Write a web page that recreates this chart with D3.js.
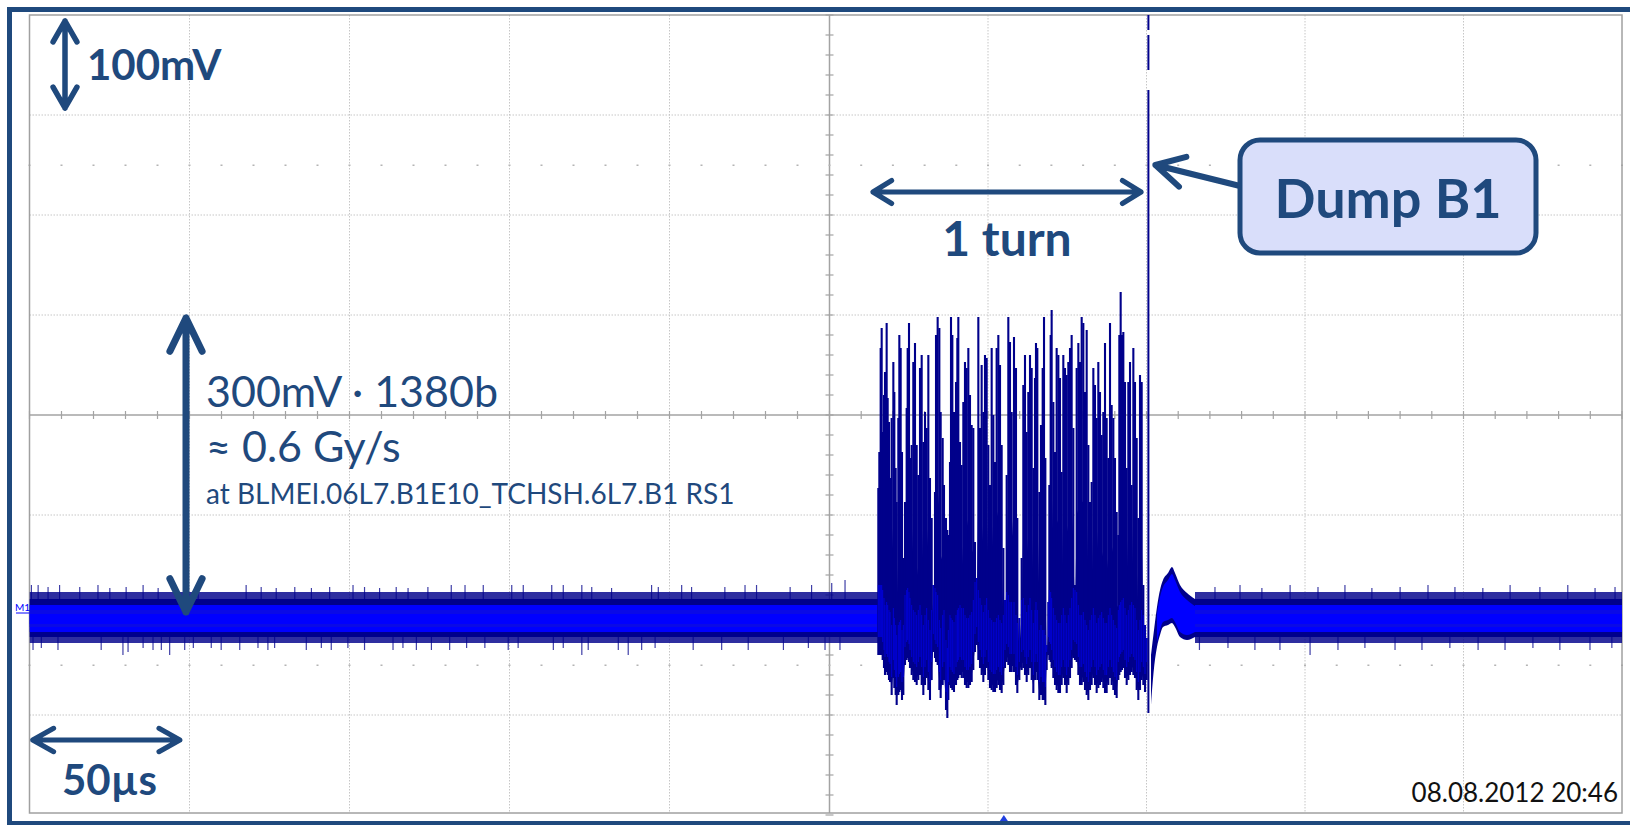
<!DOCTYPE html>
<html>
<head>
<meta charset="utf-8">
<script src="https://cdn.jsdelivr.net/npm/d3@7"></script>
<style>
  body { margin: 0; background: #fff; }
  svg { display: block; }
  text { font-family: Lato, "Open Sans", sans-serif; }
</style>
</head>
<body>
<div id="scope"></div>
<script>
// screen: 10 div x 50 µs, 8 div x 100 mV
var timeTicks = [-250, -200, -150, -100, -50, 0, 50, 100, 150, 200, 250];
var voltTicks = [-400, -300, -200, -100, 0, 100, 200, 300, 400];

// idle trace band (mV): fuzzy top, solid top, core top, core bottom, solid bottom, fuzzy bottom
var baseLevels = [-177, -184, -190, -217, -222, -228];
var baseSpans = [[-250, 15.4], [115.3, 250]];

// noise spikes sticking out of the idle band (µs, mV)
var spikeUpT = [-249.4, -247.3, -244.2, -240.6, -234.3, -228.6, -224.9, -219.8, -214.5, -209.8, -197.3, -182.3, -177.6, -172.9, -167.1, -161.9, -156.2, -148.9, -145.3, -140.6, -135.4, -131.7, -125.5, -118.2, -113.9, -108.2, -99.3, -95.7, -86.8, -83.2, -77.4, -74.3, -68.1, -55.6, -53.5, -46.2, -43.1, -32.7, -26.4, -22.8, -12.3, -5.6, 0.7, 4.9,
                121.6, 129.5, 136.4, 145.3, 154.1, 162.6, 171.1, 180.0, 188.8, 197.3, 206.1, 214.7, 224.1, 232.9, 241.5, 247.8];
var spikeUpV = [-170, -170, -172, -170, -172, -170, -173, -172, -170, -173, -172, -170, -172, -173, -172, -173, -172, -170, -172, -173, -172, -173, -172, -170, -170, -170, -170, -170, -170, -170, -170, -172, -173, -170, -172, -170, -172, -172, -170, -170, -172, -170, -168, -165,
                -172, -170, -173, -170, -172, -170, -173, -172, -170, -172, -173, -170, -172, -170, -173, -172];
var spikeDnT = [-248.9, -246.3, -241.1, -227.6, -220.8, -219.2, -214.5, -211.4, -208.8, -206.2, -201.5, -198.8, -193.2, -190.1, -184.3, -178.6, -175.5, -173.4, -163.5, -158.8, -155.7, -150.5, -145.3, -136.4, -133.3, -129.1, -124.4, -118.7, -113.4, -107.7, -100.4, -97.3, -86.3, -83.2, -77.4, -75.4, -66.0, -62.9, -58.7, -54.5, -42.6, -33.7, -25.4, -14.4, -6.6, -1.4, 3.3,
                116.7, 125.7, 134.2, 142.1, 151.6, 160.4, 168.9, 178.4, 186.9, 195.7, 204.6, 213.1, 221.9, 230.4, 239.9, 246.8];
var spikeDnV = [-235, -233, -235, -235, -240, -237, -233, -235, -235, -240, -235, -233, -233, -235, -235, -233, -235, -233, -235, -233, -235, -233, -235, -235, -233, -235, -235, -235, -233, -233, -235, -233, -235, -233, -240, -235, -235, -240, -235, -233, -235, -235, -235, -235, -233, -235, -235,
                -235, -233, -235, -235, -240, -235, -233, -235, -235, -233, -235, -235, -233, -235, -235, -233];

// loss burst during the last turn before the dump (µs, mV max, mV min)
var burstT = [15.40, 15.72, 16.14, 16.46, 16.77, 17.19, 17.51, 18.03, 18.35, 18.77, 19.09, 19.61, 20.14, 20.45, 20.87, 21.19, 21.71, 22.03, 22.45, 22.87,
              23.29, 23.82, 24.34, 24.66, 25.08, 25.39, 25.92, 26.44, 26.97, 27.50, 28.02, 28.55, 29.08, 29.60, 30.13, 30.65, 31.18, 31.70, 32.23, 32.75,
              33.28, 33.60, 34.12, 34.65, 35.07, 35.70, 36.12, 36.75, 37.17, 37.49, 38.01, 38.33, 38.75, 39.27, 39.91, 40.33, 40.64, 41.17, 41.69, 42.22,
              42.74, 43.27, 43.80, 44.32, 44.85, 45.37, 45.90, 46.43, 46.95, 47.48, 48.00, 48.53, 49.05, 49.58, 50.10, 50.63, 51.16, 51.68, 52.21, 52.73,
              53.26, 53.79, 54.31, 54.84, 55.36, 55.89, 56.41, 56.94, 57.47, 58.20, 58.83, 59.25, 59.88, 60.62, 61.14, 61.67, 62.20, 62.72, 63.25, 63.78,
              64.30, 64.83, 65.14, 65.56, 66.19, 66.72, 67.25, 67.67, 68.09, 68.51, 69.03, 69.35, 69.77, 70.08, 70.61, 71.14, 71.66, 72.19, 72.71, 73.24,
              73.76, 74.29, 74.82, 75.34, 75.87, 76.39, 76.92, 77.44, 77.97, 78.50, 79.02, 79.55, 80.07, 80.60, 81.13, 81.65, 82.18, 82.70, 83.23, 83.75,
              84.28, 84.80, 85.33, 85.86, 86.38, 86.91, 87.43, 87.96, 88.49, 89.01, 89.54, 90.06, 90.59, 91.11, 91.43, 91.85, 92.27, 92.69, 93.22, 93.75,
              94.27, 94.80, 95.32, 95.85, 96.37, 96.90, 97.42, 97.95, 98.48, 99.00, 99.53, 100.05];
var burstHi = [-73, -37, 67, 87, -17, 20, 43, 92, 17, -7, -63, -3, 53, 23, -53, -87, -3, 80, 67, -37,
               -143, -87, 7, 67, 92, -43, -30, 53, 72, -30, -60, 47, 60, -27, 3, -13, 60, -63, -103, -170,
               -77, 80, 98, 87, 3, -23, -70, -103, -115, -120, -47, 98, 80, 3, 33, 77, 98, -27, -50, 13,
               53, 47, 67, 20, -10, -13, -127, -163, 98, -13, 50, 3, 60, 57, -30, -70, 67, 0, -47, 67,
               80, 50, -30, -133, -185, -60, 98, 73, 3, 78, 47, -103, -203, -143, 30, 60, -17, 23, 60, 47,
               -53, 37, 72, 67, -77, -10, 47, 98, -43, -230, -187, -70, 80, 105, 13, -37, 67, 60, 37, -57,
               60, 47, 40, 53, 67, 80, -13, -170, 47, 72, 53, 98, 92, 23, 85, -30, -87, -67, 47, 30,
               -3, 53, 23, -20, 3, 72, -3, -43, 92, 10, -3, -43, -97, -120, 80, 123, 80, 83, 33, -53,
               33, 53, -70, 67, 33, -23, -103, 40, 33, -170, -210, -223];
var burstLo = [-240, -240, -240, -240, -245, -253, -260, -257, -260, -265, -267, -280, -263, -273, -280, -290, -280, -277, -275, -285,
               -280, -250, -245, -243, -247, -253, -260, -265, -267, -270, -265, -260, -270, -280, -270, -263, -275, -285, -265, -237,
               -243, -247, -250, -275, -283, -270, -265, -295, -303, -285, -270, -273, -275, -277, -270, -265, -263, -260, -263, -263,
               -270, -273, -273, -270, -267, -255, -237, -230, -245, -253, -260, -267, -260, -253, -265, -273, -275, -277, -277, -273,
               -270, -275, -278, -270, -253, -247, -250, -257, -257, -257, -270, -278, -265, -255, -253, -260, -267, -260, -253, -265,
               -278, -265, -257, -265, -285, -280, -285, -285, -290, -255, -240, -245, -247, -253, -263, -270, -275, -278, -278, -270,
               -263, -270, -278, -270, -263, -253, -243, -245, -247, -260, -270, -270, -267, -275, -280, -285, -275, -270, -263, -270,
               -278, -273, -270, -267, -273, -278, -278, -270, -263, -270, -275, -280, -283, -265, -260, -257, -255, -253, -263, -270,
               -265, -260, -257, -260, -263, -275, -285, -275, -265, -270, -277, -265];

// recovery of the signal right after the dump (µs, mV max, mV min)
var recovT = [101.42, 102.37, 103.31, 104.26, 105.21, 106.78, 108.04, 108.99, 110.57, 112.78, 115.30];
var recovHi = [-240, -215, -192, -175, -165, -158, -152, -158, -170, -178, -184];
var recovLo = [-290, -253, -232, -220, -212, -210, -208, -212, -222, -225, -222];

// beam dump trigger line (µs) and its drawn pieces (mV)
var dumpT = 100.6;
var dumpSegs = [[400, 385], [380, 345], [325, -298]];

var W = 1630, H = 825;
var navy = "#00008b", bright = "#0000ff", ink = "#1f497d";

var x = d3.scaleLinear().domain([-250, 0, 250]).range([29.5, 829.5, 1622]);
var y = d3.scaleLinear().domain([-400, 400]).range([815, 15]);

var svg = d3.select("#scope").append("svg")
    .attr("width", W)
    .attr("height", H);

svg.append("rect").attr("width", W).attr("height", H).attr("fill", "#fff");

// slide frame
svg.append("rect")
    .attr("x", 9.5).attr("y", 9.5)
    .attr("width", W).attr("height", 814)
    .attr("fill", "none").attr("stroke", ink).attr("stroke-width", 5);

// ---- graticule
var grid = svg.append("g");
grid.selectAll(".vg").data(timeTicks.slice(1, -1)).enter().append("line")
    .attr("x1", function(d) { return x(d); }).attr("x2", function(d) { return x(d); })
    .attr("y1", y(400)).attr("y2", y(-398))
    .attr("stroke", function(d) { return d === 0 ? "#a3a3a3" : "#c6c6c6"; })
    .attr("stroke-width", function(d) { return d === 0 ? 1.5 : 1; })
    .attr("stroke-dasharray", function(d) { return d === 0 ? null : "1.5,1.5"; });
grid.selectAll(".hg").data(voltTicks.slice(1, -1)).enter().append("line")
    .attr("y1", function(d) { return y(d); }).attr("y2", function(d) { return y(d); })
    .attr("x1", x(-250)).attr("x2", x(250))
    .attr("stroke", function(d) { return d === 0 ? "#a3a3a3" : "#c6c6c6"; })
    .attr("stroke-width", function(d) { return d === 0 ? 1.5 : 1; })
    .attr("stroke-dasharray", function(d) { return d === 0 ? null : "1.5,1.5"; });

// minor ticks on centre axes, dots at +-2.5 div
var minorT = d3.range(-250, 251, 10), minorV = d3.range(-400, 401, 20);
grid.selectAll(".mt").data(minorT).enter().append("line")
    .attr("x1", function(d) { return x(d); }).attr("x2", function(d) { return x(d); })
    .attr("y1", y(0) - 4).attr("y2", y(0) + 4)
    .attr("stroke", "#a3a3a3").attr("stroke-width", 1.2);
grid.selectAll(".mv").data(minorV).enter().append("line")
    .attr("y1", function(d) { return y(d); }).attr("y2", function(d) { return y(d); })
    .attr("x1", x(0) - 4).attr("x2", x(0) + 4)
    .attr("stroke", "#a3a3a3").attr("stroke-width", 1.2);
[250, -250].forEach(function(v) {
  grid.selectAll(null).data(minorT).enter().append("rect")
      .attr("x", function(d) { return x(d) - 1; }).attr("y", y(v) - 0.5)
      .attr("width", 2).attr("height", 1.5).attr("fill", "#b4b4b4");
});

grid.append("rect")
    .attr("x", x(-250)).attr("y", y(400))
    .attr("width", x(250) - x(-250)).attr("height", y(-398) - y(400))
    .attr("fill", "none").attr("stroke", "#a0a0a0").attr("stroke-width", 1.5);

// ---- trace
svg.append("clipPath").attr("id", "clip").append("rect")
    .attr("x", x(-250)).attr("y", y(400))
    .attr("width", x(250) - x(-250)).attr("height", y(-398) - y(400));
var tr = svg.append("g").attr("clip-path", "url(#clip)");

var spikesUp = spikeUpT.map(function(t, i) { return { t: t, v: spikeUpV[i], edge: baseLevels[1] }; });
var spikesDn = spikeDnT.map(function(t, i) { return { t: t, v: spikeDnV[i], edge: baseLevels[4] }; });
tr.selectAll(".sp").data(spikesUp.concat(spikesDn)).enter().append("line")
    .attr("x1", function(d) { return x(d.t); }).attr("x2", function(d) { return x(d.t); })
    .attr("y1", function(d) { return y(d.edge); }).attr("y2", function(d) { return y(d.v); })
    .attr("stroke", navy).attr("stroke-width", 1.2).attr("opacity", 0.75);

function bandRect(g, span, hi, lo, fill, op) {
  g.append("rect")
      .attr("x", x(span[0])).attr("width", x(span[1]) - x(span[0]))
      .attr("y", y(hi)).attr("height", y(lo) - y(hi))
      .attr("fill", fill).attr("opacity", op);
}
baseSpans.forEach(function(s) {
  bandRect(tr, s, baseLevels[0], baseLevels[5], navy, 0.82);
  bandRect(tr, s, baseLevels[1], baseLevels[4], navy, 1);
  bandRect(tr, s, baseLevels[2], baseLevels[3], bright, 1);
  bandRect(tr, s, baseLevels[2] - 5, baseLevels[3] + 5, "#0a0ae6", 1);
  bandRect(tr, s, baseLevels[2] - 9, baseLevels[3] + 8, bright, 1);
});

var burst = burstT.map(function(t, i) { return { t: t, hi: burstHi[i], lo: burstLo[i] }; });
// dense lower body of the burst
tr.append("path").datum(burst)
    .attr("d", d3.area()
        .x(function(d) { return x(d.t); })
        .y0(function(d) { return y(d.lo + 6); })
        .y1(function(d) { return y(Math.min(d.hi, (d.hi + d.lo) / 2)); }))
    .attr("fill", navy);
tr.selectAll(".bb").data(burst).enter().append("line")
    .attr("x1", function(d) { return x(d.t); }).attr("x2", function(d) { return x(d.t); })
    .attr("y1", function(d) { return y(d.hi); }).attr("y2", function(d) { return y(d.lo); })
    .attr("stroke", navy).attr("stroke-width", 2.1);
// brighter, denser core near the bottom of each bunch trace
function coreTop(d) { return Math.min(d.hi, d.lo + 70); }
tr.selectAll(".bc").data(burst.filter(function(d) { return coreTop(d) > d.lo + 18; })).enter().append("line")
    .attr("x1", function(d) { return x(d.t); }).attr("x2", function(d) { return x(d.t); })
    .attr("y1", function(d) { return y(coreTop(d)); }).attr("y2", function(d) { return y(d.lo + 18); })
    .attr("stroke", bright).attr("stroke-width", 0.9).attr("opacity", 0.7);

var recov = recovT.map(function(t, i) { return { t: t, hi: recovHi[i], lo: recovLo[i] }; });
tr.append("path").datum(recov)
    .attr("d", d3.area().curve(d3.curveMonotoneX)
        .x(function(d) { return x(d.t); })
        .y0(function(d) { return y(d.lo); }).y1(function(d) { return y(d.hi); }))
    .attr("fill", navy);
tr.append("path").datum(recov.slice(2))
    .attr("d", d3.area().curve(d3.curveMonotoneX)
        .x(function(d) { return x(d.t); })
        .y0(function(d) { return y(d.lo + 5); }).y1(function(d) { return y(d.hi - 7); }))
    .attr("fill", bright);

tr.selectAll(".dl").data(dumpSegs).enter().append("line")
    .attr("x1", x(dumpT)).attr("x2", x(dumpT))
    .attr("y1", function(d) { return y(d[0]); }).attr("y2", function(d) { return y(d[1]); })
    .attr("stroke", navy).attr("stroke-width", 2);

// channel marker and trigger marker
svg.append("text").attr("x", 15).attr("y", y(baseLevels[1]) + 12)
    .attr("font-size", 10).attr("fill", bright).text("M1");
svg.append("line").attr("x1", 16).attr("x2", x(-250))
    .attr("y1", y(baseLevels[1]) + 14).attr("y2", y(baseLevels[1]) + 14)
    .attr("stroke", bright).attr("stroke-width", 1);
svg.append("path")
    .attr("d", "M" + (x(55) - 4) + "," + (y(-400) + 6) + "l4,-6l4,6z")
    .attr("fill", "#2040e0");

// ---- annotations
var ann = svg.append("g");
function arrow(x1, y1, x2, y2, o) {
  var a = Math.atan2(y2 - y1, x2 - x1), h = o.head, s = o.spread;
  var p = d3.path();
  p.moveTo(x1, y1); p.lineTo(x2, y2);
  function head(px, py, ang) {
    p.moveTo(px - h * Math.cos(ang - s), py - h * Math.sin(ang - s));
    p.lineTo(px, py);
    p.lineTo(px - h * Math.cos(ang + s), py - h * Math.sin(ang + s));
  }
  head(x2, y2, a);
  if (o.both) head(x1, y1, a + Math.PI);
  ann.append("path").attr("d", p.toString())
      .attr("fill", "none").attr("stroke", ink).attr("stroke-width", o.w)
      .attr("stroke-linecap", "round").attr("stroke-linejoin", "round");
}

// 100 mV per division
arrow(65, y(394), 65, y(307), { head: 24, spread: 0.52, w: 5.5, both: true });
ann.append("text").attr("x", 87).attr("y", 80)
    .attr("font-size", 42).attr("font-weight", 700).attr("fill", ink).text("100mV");

// 50 µs per division
arrow(x(-249), 740, x(-203), 740, { head: 24, spread: 0.51, w: 5, both: true });
ann.append("text").attr("x", 62).attr("y", 795)
    .attr("font-size", 42).attr("font-weight", 700).attr("fill", ink).text("50µs");

// burst amplitude
arrow(186, y(97), 186, y(-197), { head: 37, spread: 0.45, w: 7, both: true });
ann.append("text").attr("x", 206).attr("y", 407)
    .attr("font-size", 43).attr("fill", ink).text("300mV · 1380b");
ann.append("text").attr("x", 206).attr("y", 462)
    .attr("font-size", 43).attr("fill", ink).text("≈ 0.6 Gy/s");
ann.append("text").attr("x", 206).attr("y", 504)
    .attr("font-size", 28).attr("fill", ink).text("at BLMEI.06L7.B1E10_TCHSH.6L7.B1 RS1");

// one LHC turn
arrow(x(13.7), 192, x(98.3), 192, { head: 22, spread: 0.55, w: 5, both: true });
ann.append("text").attr("x", 1007).attr("y", 256).attr("text-anchor", "middle")
    .attr("font-size", 48).attr("font-weight", 700).attr("fill", ink).text("1 turn");

// dump label
arrow(1240, 186, x(dumpT) + 7, 165, { head: 32, spread: 0.5, w: 6 });
ann.append("rect").attr("x", 1240).attr("y", 140).attr("width", 296).attr("height", 113)
    .attr("rx", 20).attr("fill", "#d9defa").attr("stroke", ink).attr("stroke-width", 5);
ann.append("text").attr("x", 1388).attr("y", 218).attr("text-anchor", "middle")
    .attr("font-size", 54).attr("font-weight", 700).attr("fill", ink).text("Dump B1");

// timestamp
svg.append("text").attr("x", 1618).attr("y", 802).attr("text-anchor", "end")
    .attr("font-size", 26).attr("fill", "#111").text("08.08.2012 20:46");
</script>
</body>
</html>
